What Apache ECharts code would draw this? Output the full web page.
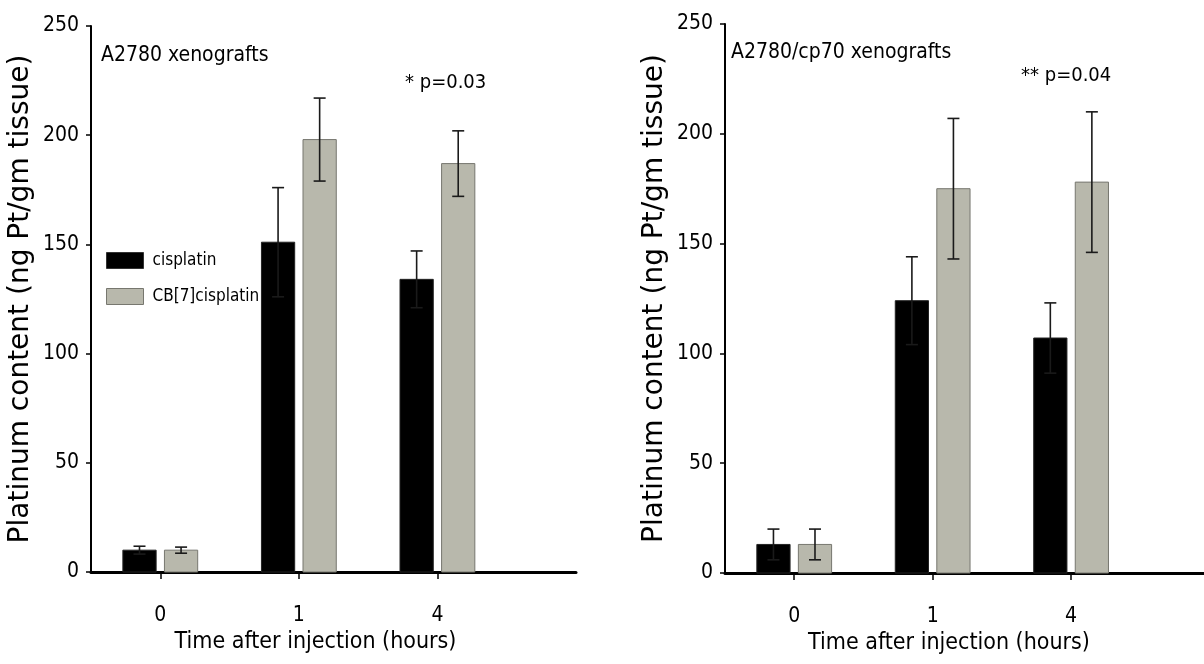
<!DOCTYPE html>
<html>
<head>
<meta charset="utf-8">
<script src="https://cdn.jsdelivr.net/npm/echarts@6/dist/echarts.min.js"></script>
<style>
html,body{margin:0;padding:0;background:#fff;}
#chart{width:1204px;height:664px;}
</style>
</head>
<body>
<div id="chart"></div>
<script>
// ---- data ----
const timeLabels = ['0', '1', '4'];
const seriesNames = ['cisplatin', 'CB[7]cisplatin'];
const panelTitles = ['A2780 xenografts', 'A2780/cp70 xenografts'];
const pValueNotes = ['* p=0.03', '** p=0.04'];
const yTicks = [0, 50, 100, 150, 200, 250];

const a2780Cis    = [10, 151, 134];
const a2780CisErr = [1.8, 25, 13];
const a2780CB     = [10, 198, 187];
const a2780CBErr  = [1.4, 19, 15];

const cp70Cis     = [13, 124, 107];
const cp70CisErr  = [7, 20, 16];
const cp70CB      = [13, 175, 178];
const cp70CBErr   = [7, 32, 32];

// ---- styling ----
const NARROW = '"DejaVu Sans Condensed", "Liberation Sans Narrow", "Liberation Sans", sans-serif';
const WIDE = '"DejaVu Sans", Verdana, sans-serif';
const BLACK_FILL = '#000000';
const GRAY_FILL = '#b8b8ac';
const BAR_OFFSET = 0.15;
const BAR_WIDTH = 0.24;

function barRender(offset, fill, stroke) {
  return function (params, api) {
    const x = api.value(0), y = api.value(1);
    const base = api.coord([x, 0]);
    const top = api.coord([x, y]);
    const band = api.size([1, 0])[0];
    const w = band * BAR_WIDTH;
    const cx = base[0] + band * offset;
    return {
      type: 'rect',
      shape: { x: cx - w / 2, y: top[1], width: w, height: base[1] - top[1] },
      style: { fill: fill, stroke: stroke, lineWidth: 1 }
    };
  };
}
function errRender(offset) {
  return function (params, api) {
    const x = api.value(0), y = api.value(1), e = api.value(2);
    const band = api.size([1, 0])[0];
    const hi = api.coord([x, y + e]);
    const lo = api.coord([x, y - e]);
    const cx = hi[0] + band * offset;
    const cap = 6;
    const st = { stroke: '#1a1a1a', lineWidth: 1.6 };
    return {
      type: 'group',
      children: [
        { type: 'line', shape: { x1: cx, y1: hi[1], x2: cx, y2: lo[1] }, style: st },
        { type: 'line', shape: { x1: cx - cap, y1: hi[1], x2: cx + cap, y2: hi[1] }, style: st },
        { type: 'line', shape: { x1: cx - cap, y1: lo[1], x2: cx + cap, y2: lo[1] }, style: st }
      ]
    };
  };
}
function pts(vals) { return vals.map((v, i) => [i, v]); }
function errPts(vals, errs) { return vals.map((v, i) => [i, v, errs[i]]); }

function xAxisCfg(gridIndex, max, namePadRight) {
  return {
    type: 'value', gridIndex: gridIndex, min: -0.5, max: max,
    name: 'Time after injection (hours)', nameLocation: 'middle', nameGap: 54,
    nameTextStyle: { fontFamily: NARROW, fontSize: 23, color: '#000', padding: [0, namePadRight, 0, 0] },
    axisLine: { show: true, onZero: false, lineStyle: { color: '#000', width: 3 } },
    axisTick: { show: true, length: 7, customValues: [0, 1, 2], lineStyle: { color: '#000', width: 1.5 } },
    axisLabel: { show: true, customValues: [0, 1, 2], margin: 33, fontFamily: NARROW, fontSize: 21, color: '#000',
      formatter: v => timeLabels[Math.round(v)] },
    splitLine: { show: false }
  };
}
function yAxisCfg(gridIndex) {
  return {
    type: 'value', gridIndex: gridIndex, min: yTicks[0], max: yTicks[yTicks.length - 1], interval: yTicks[1] - yTicks[0],
    name: 'Platinum content (ng Pt/gm tissue)', nameLocation: 'middle', nameGap: 56,
    nameTextStyle: { fontFamily: WIDE, fontSize: 28, color: '#000' },
    axisLine: { show: true, onZero: false, lineStyle: { color: '#000', width: 2 } },
    axisTick: { show: true, length: 5, lineStyle: { color: '#000', width: 1.5 } },
    axisLabel: { margin: 12, fontFamily: NARROW, fontSize: 21, color: '#000' },
    splitLine: { show: false }
  };
}

const panels = [
  { cis: a2780Cis, cisErr: a2780CisErr, cb: a2780CB, cbErr: a2780CBErr },
  { cis: cp70Cis, cisErr: cp70CisErr, cb: cp70CB, cbErr: cp70CBErr }
];

const series = [];
panels.forEach((p, g) => {
  series.push({ type: 'custom', name: seriesNames[0], xAxisIndex: g, yAxisIndex: g,
    itemStyle: { color: BLACK_FILL }, renderItem: barRender(-BAR_OFFSET, BLACK_FILL, '#222'), data: pts(p.cis), z: 2 });
  series.push({ type: 'custom', name: seriesNames[1], xAxisIndex: g, yAxisIndex: g,
    itemStyle: { color: GRAY_FILL }, renderItem: barRender(BAR_OFFSET, GRAY_FILL, '#77776f'), data: pts(p.cb), z: 2 });
  series.push({ type: 'custom', name: 'err-cis-' + g, xAxisIndex: g, yAxisIndex: g,
    renderItem: errRender(-BAR_OFFSET), data: errPts(p.cis, p.cisErr), z: 3 });
  series.push({ type: 'custom', name: 'err-cb-' + g, xAxisIndex: g, yAxisIndex: g,
    renderItem: errRender(BAR_OFFSET), data: errPts(p.cb, p.cbErr), z: 3 });
});

const txt = (size) => ({ fontFamily: NARROW, fontSize: size, fontWeight: 'normal', color: '#000' });

const chart = echarts.init(document.getElementById('chart'), null, { renderer: 'canvas' });
chart.setOption({
  animation: false,
  backgroundColor: '#ffffff',
  grid: [
    { left: 91, top: 26, width: 485, bottom: 92 },
    { left: 725, top: 24, right: 0, bottom: 91 }
  ],
  xAxis: [ xAxisCfg(0, 3, 36), xAxisCfg(1, 2.96, 31) ],
  yAxis: [ yAxisCfg(0), yAxisCfg(1) ],
  title: [
    { text: panelTitles[0], left: 101, top: 45, padding: 0, textStyle: txt(21) },
    { text: panelTitles[1], left: 731, top: 42, padding: 0, textStyle: txt(21) },
    { text: pValueNotes[0], left: 405, top: 73, padding: 0, textStyle: txt(20) },
    { text: pValueNotes[1], left: 1021, top: 66, padding: 0, textStyle: txt(20) }
  ],
  legend: {
    left: 106, top: 252, orient: 'vertical', padding: 0,
    itemWidth: 37, itemHeight: 16, itemGap: 19, icon: 'rect', selectedMode: false,
    textStyle: { fontFamily: NARROW, fontSize: 17, color: '#000', padding: [0, 0, 0, 4] },
    data: [
      { name: seriesNames[0], itemStyle: { color: BLACK_FILL, borderColor: '#333', borderWidth: 1 } },
      { name: seriesNames[1], itemStyle: { color: GRAY_FILL, borderColor: '#77776f', borderWidth: 1 } }
    ]
  },
  series: series
});
</script>
</body>
</html>
